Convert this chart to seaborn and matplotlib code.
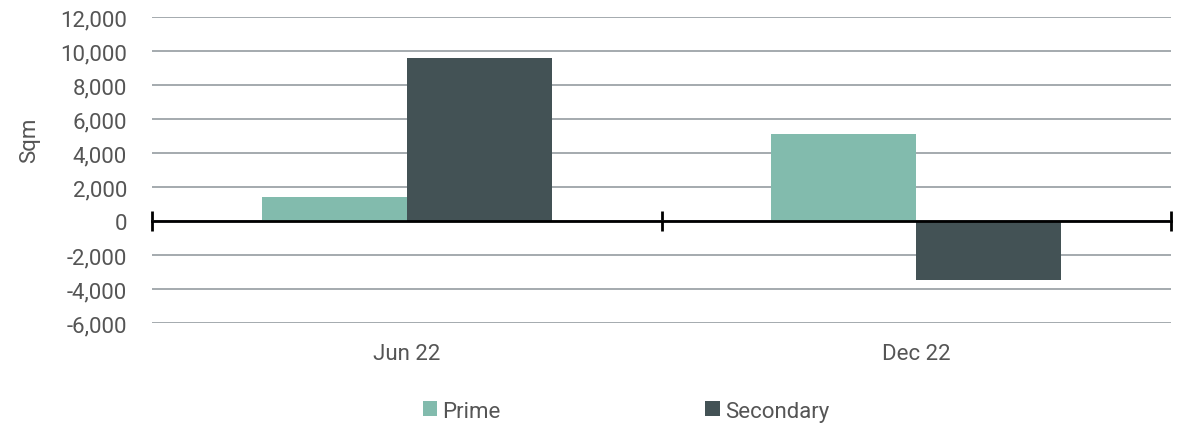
import matplotlib
matplotlib.use("Agg")
import matplotlib.pyplot as plt
import seaborn as sns
import pandas as pd

# Net absorption by grade, half-year periods
periods = ["Jun 22", "Dec 22"]
grades = ["Prime", "Secondary"]
prime_values = [1450, 5150]
secondary_values = [9630, -3450]
y_ticks = [-6000, -4000, -2000, 0, 2000, 4000, 6000, 8000, 10000, 12000]

palette = {"Prime": "#82bbad", "Secondary": "#435255"}
text_color = "#555555"
grid_color = "#959ca1"
font_size = 16

df = pd.DataFrame({
    "period": periods * 2,
    "grade": [grades[0]] * len(periods) + [grades[1]] * len(periods),
    "value": prime_values + secondary_values,
})

sns.set_theme(style="white")
plt.rcParams["font.family"] = ["Roboto", "DejaVu Sans"]

fig = plt.figure(figsize=(11.79, 4.27), dpi=100)
ax = fig.add_axes([0.129, 0.2405, 0.8642, 0.7165])

sns.barplot(data=df, x="period", y="value", hue="grade", order=periods,
            hue_order=grades, palette=palette, width=0.57, gap=0,
            linewidth=0, saturation=1, ax=ax, legend=True)

ax.set_ylim(y_ticks[0], y_ticks[-1])
ax.set_xlim(-0.5, len(periods) - 0.5)
ax.set_yticks(y_ticks)
ax.set_yticklabels([f"{v:,}" for v in y_ticks])
ax.grid(axis="y", color=grid_color, linewidth=1.2)
ax.grid(axis="x", visible=False)
ax.set_axisbelow(True)

for side in ["left", "right", "top"]:
    ax.spines[side].set_visible(False)

# Zero baseline with tick marks at the category boundaries
ax.spines["bottom"].set_position(("data", 0))
ax.spines["bottom"].set_color("black")
ax.spines["bottom"].set_linewidth(2)
ax.spines["bottom"].set_zorder(5)
ax.set_xticks([i - 0.5 for i in range(len(periods) + 1)])
ax.set_xticklabels([])
ax.tick_params(axis="x", direction="inout", length=15, width=2,
               color="black", bottom=True)

# Category labels beneath the plot area
sec = ax.secondary_xaxis("bottom")
sec.set_xticks(range(len(periods)))
sec.set_xticklabels(periods)
sec.tick_params(axis="x", length=0, pad=14, labelsize=font_size, labelcolor=text_color)
sec.spines["bottom"].set_visible(False)

ax.tick_params(axis="y", length=0, pad=18, labelsize=font_size, labelcolor=text_color)
ax.set_xlabel("")
ax.set_ylabel("Sqm", fontsize=font_size, color=text_color)
ax.yaxis.set_label_coords(-0.11, 0.6)

handles, labels = ax.get_legend_handles_labels()
ax.get_legend().remove()
fig.legend(handles, labels, loc="center", bbox_to_anchor=(0.531, 0.035),
           ncol=2, frameon=False, handlelength=0.65, handleheight=0.65,
           handletextpad=0.25, columnspacing=9.2, fontsize=font_size,
           labelcolor=text_color)

fig.savefig("out.png", dpi=100)
